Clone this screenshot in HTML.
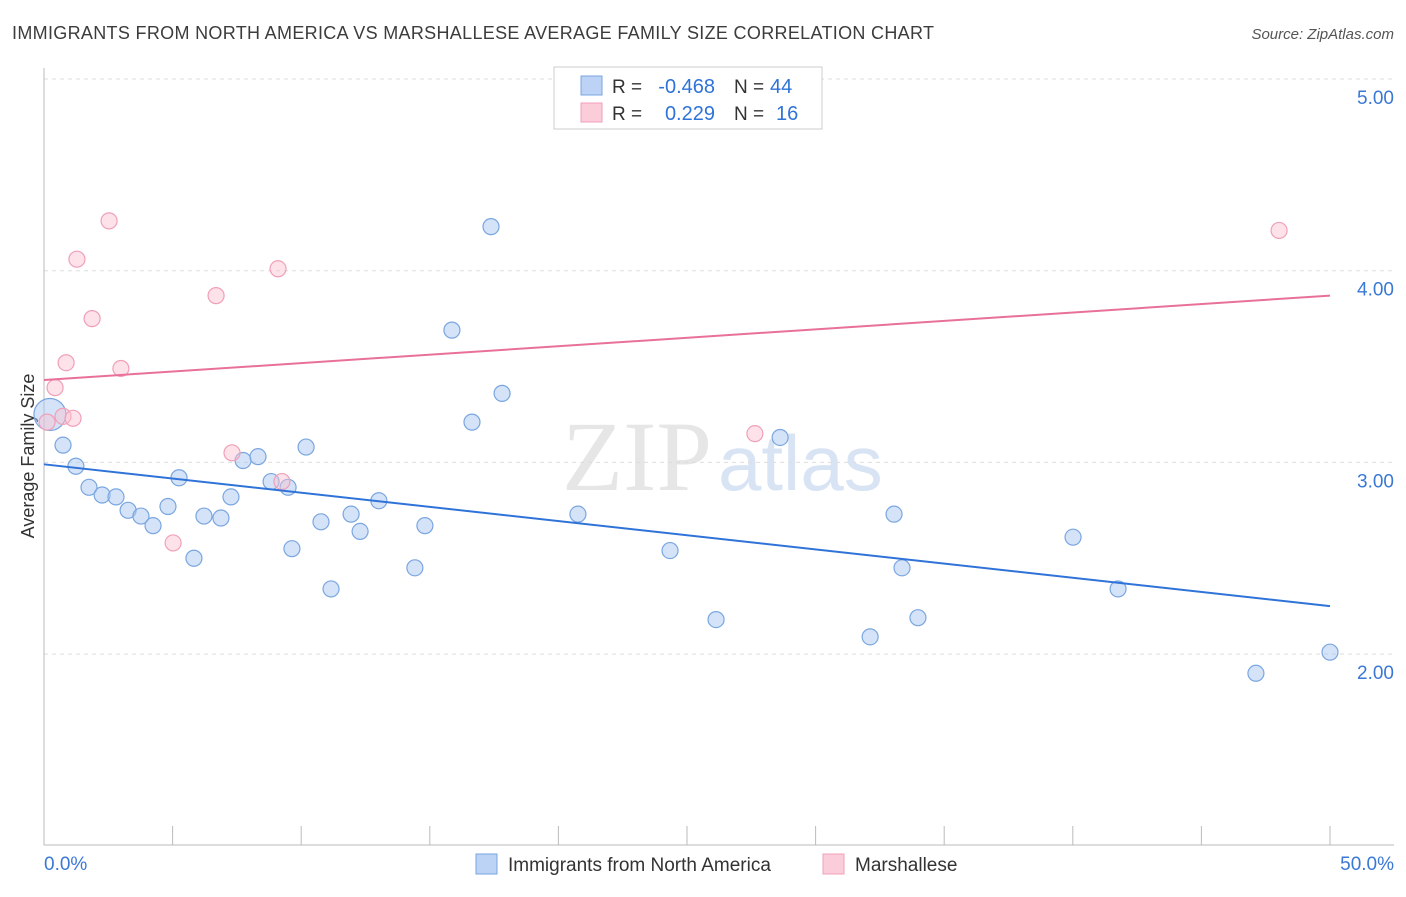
<!DOCTYPE html>
<html><head><meta charset="utf-8"><style>
body{margin:0;background:#fff;font-family:"Liberation Sans",sans-serif}
</style></head><body>
<svg width="1406" height="892" xmlns="http://www.w3.org/2000/svg" id="svg" font-family="Liberation Sans, sans-serif">
<text x="12" y="39" font-size="18" fill="#3c3c3c" textLength="922">IMMIGRANTS FROM NORTH AMERICA VS MARSHALLESE AVERAGE FAMILY SIZE CORRELATION CHART</text>
<text x="1394" y="39" font-size="15" fill="#555" text-anchor="end" font-style="italic">Source: ZipAtlas.com</text>
<text x="712" y="490" font-size="100" fill="#e6e6e6" text-anchor="end" font-family="Liberation Serif, serif">ZIP</text>
<text x="718" y="490" font-size="78" fill="#d8e4f4">atlas</text>
<text transform="translate(34,456) rotate(-90)" font-size="18" fill="#333" text-anchor="middle">Average Family Size</text>
<g id="grid"></g><g id="pts"></g><g id="lines"></g>
<g>
<rect x="554" y="67" width="268" height="62" fill="#fff" stroke="#ccc"/>
<rect x="581" y="76" width="21" height="19" fill="#bcd3f5" stroke="#7aa6e0"/>
<rect x="581" y="103" width="21" height="19" fill="#fbcdda" stroke="#f0a0b8"/>
<text x="612" y="93" font-size="19" fill="#333">R =</text>
<text x="715" y="93" font-size="20" fill="#2f73d8" text-anchor="end">-0.468</text>
<text x="734" y="93" font-size="19" fill="#333">N =</text>
<text x="770" y="93" font-size="20" fill="#2f73d8">44</text>
<text x="612" y="120" font-size="19" fill="#333">R =</text>
<text x="715" y="120" font-size="20" fill="#2f73d8" text-anchor="end">0.229</text>
<text x="734" y="120" font-size="19" fill="#333">N =</text>
<text x="776" y="120" font-size="20" fill="#2f73d8">16</text>
</g>
<g>
<rect x="476" y="854" width="21" height="20" fill="#bcd3f5" stroke="#7aa6e0"/>
<text x="508" y="871" font-size="19" fill="#333">Immigrants from North America</text>
<rect x="823" y="854" width="21" height="20" fill="#fbcdda" stroke="#f0a0b8"/>
<text x="855" y="871" font-size="19" fill="#333">Marshallese</text>
</g>
</svg>
<script>
const blueX=[0.23,0.74,1.24,1.75,2.26,2.80,3.27,3.77,4.24,4.82,5.25,5.83,6.22,6.88,7.27,7.74,8.32,8.83,9.49,9.64,10.19,10.77,11.16,11.94,12.29,13.02,14.42,14.81,15.86,16.64,17.38,17.81,20.76,24.34,26.13,28.62,32.12,33.05,33.36,33.98,40.01,41.76,47.12,50.0];
const blueY=[3.25,3.09,2.98,2.87,2.83,2.82,2.75,2.72,2.67,2.77,2.92,2.50,2.72,2.71,2.82,3.01,3.03,2.90,2.87,2.55,3.08,2.69,2.34,2.73,2.64,2.80,2.45,2.67,3.69,3.21,4.23,3.36,2.73,2.54,2.18,3.13,2.09,2.73,2.45,2.19,2.61,2.34,1.90,2.01];
const pinkX=[0.12,0.43,0.74,0.86,1.13,1.28,1.87,2.53,2.99,5.02,6.69,7.31,9.10,9.25,27.64,48.02];
const pinkY=[3.21,3.39,3.24,3.52,3.23,4.06,3.75,4.26,3.49,2.58,3.87,3.05,4.01,2.90,3.15,4.21];
const blueTrend=[2.99,2.25];
const pinkTrend=[3.43,3.87];
const yTicks=[2,3,4,5];
const yTickLabels=["2.00","3.00","4.00","5.00"];
const xTicks=[0,5,10,15,20,25,30,35,40,45,50];
const NS="http://www.w3.org/2000/svg";
const X=v=>44+v*(1286/50), Y=v=>79+(5-v)*191.7;
function mk(t,a,p){const e=document.createElementNS(NS,t);for(const k in a)e.setAttribute(k,a[k]);p.appendChild(e);return e;}
const g=document.getElementById('grid');
yTicks.forEach((v,i)=>{
 const l=mk('line',{x1:44,x2:1394,y1:Y(v),y2:Y(v),stroke:'#ddd','stroke-dasharray':'4,4'},g);
 
 
 const t=mk('text',{x:1394,y:Y(v)+25,'font-size':19,fill:'#3a78d6','text-anchor':'end'},g);t.textContent=yTickLabels[i];
 
 
});
mk('line',{x1:44,x2:44,y1:68,y2:845,stroke:'#bbb'},g);
mk('line',{x1:44,x2:1394,y1:845,y2:845,stroke:'#bbb'},g);
xTicks.forEach(v=>{const l=mk('line',{x1:X(v),x2:X(v),y1:826,y2:845,stroke:'#bbb'},g);
 
 });
let t=mk('text',{x:44,y:870,'font-size':19,fill:'#3a78d6'},g);t.textContent='0.0%';


t=mk('text',{x:1394,y:870,'font-size':19,fill:'#3a78d6','text-anchor':'end'},g);t.textContent='50.0%';


const p=document.getElementById('pts');
blueX.forEach((x,i)=>{const c=mk('circle',{cx:X(x),cy:Y(blueY[i]),r:i==0?16:8,fill:'rgba(170,200,242,0.5)',stroke:'#7aa6e0','stroke-width':1.2},p);
 
 });
pinkX.forEach((x,i)=>{const c=mk('circle',{cx:X(x),cy:Y(pinkY[i]),r:8,fill:'rgba(250,190,208,0.45)',stroke:'#f0a0b8','stroke-width':1.2},p);
 
 });
const L=document.getElementById('lines');
let a=mk('line',{x1:X(0),x2:X(50),y1:Y(blueTrend[0]),y2:Y(blueTrend[1]),stroke:'#2f73d8','stroke-width':2},L);


a=mk('line',{x1:X(0),x2:X(50),y1:Y(pinkTrend[0]),y2:Y(pinkTrend[1]),stroke:'#e8709a','stroke-width':2},L);


</script>
</body></html>
